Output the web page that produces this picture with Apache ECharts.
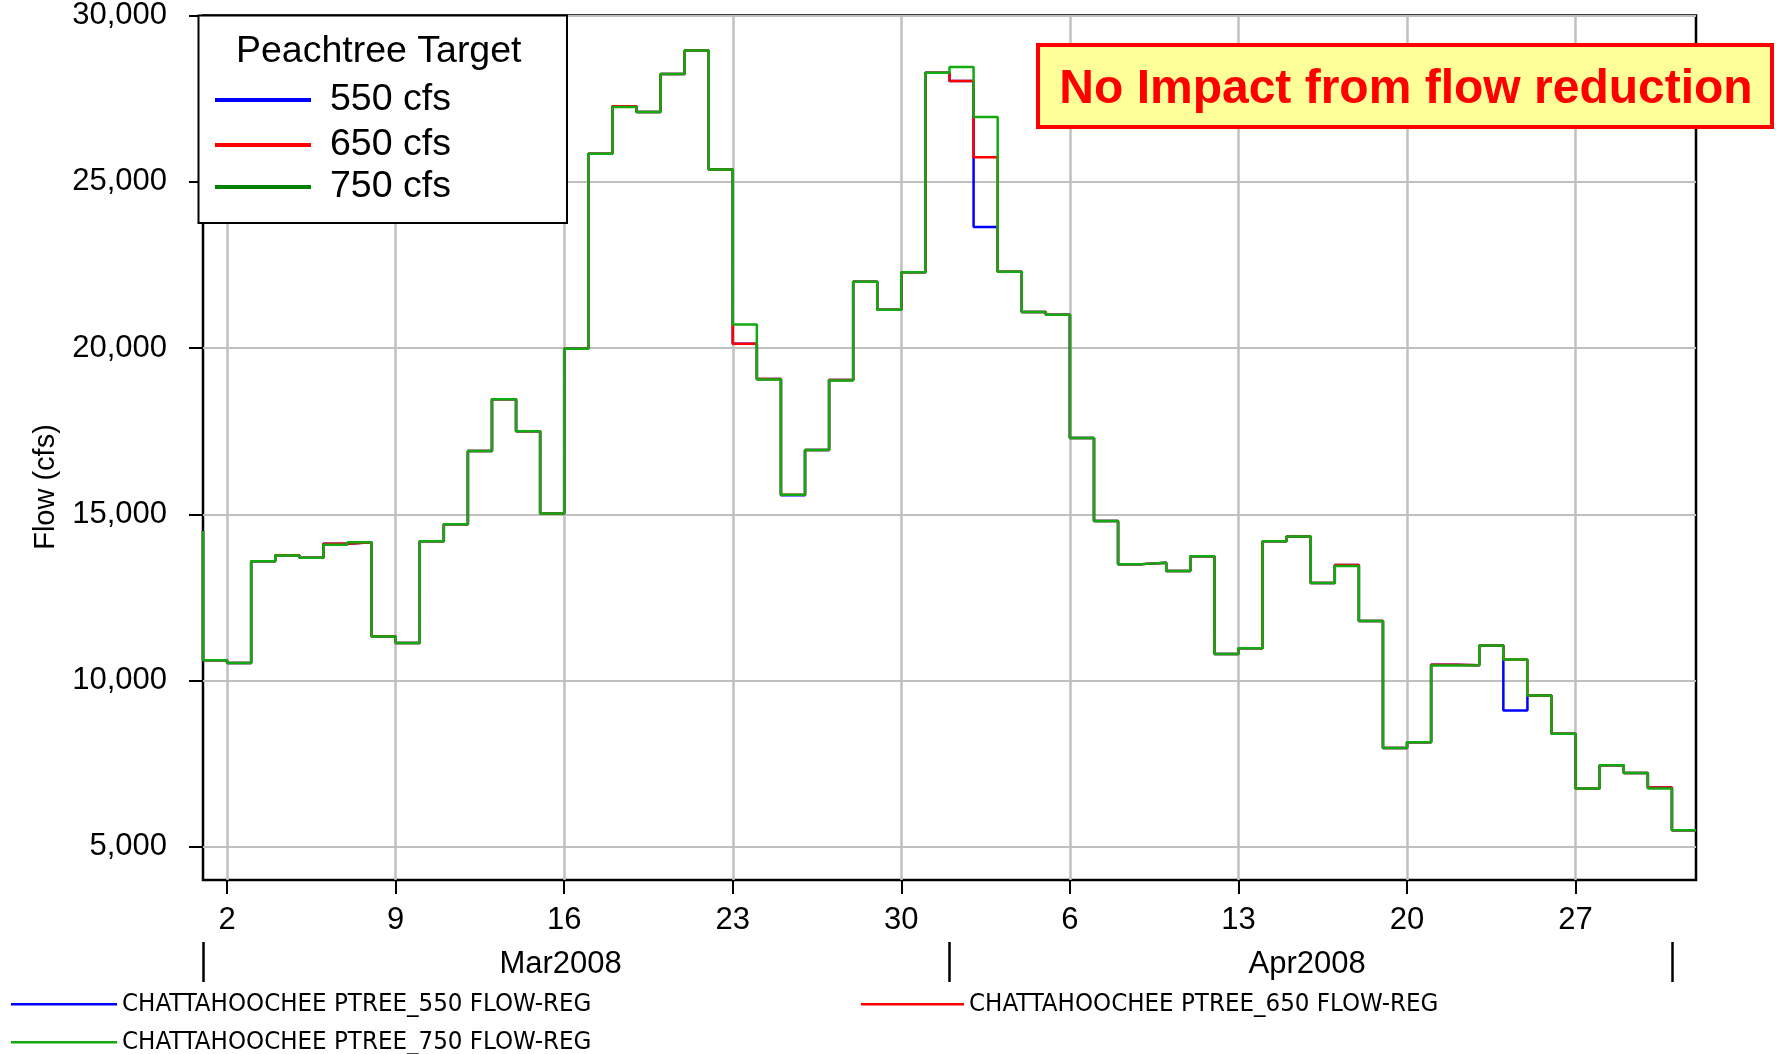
<!DOCTYPE html>
<html><head><meta charset="utf-8">
<script src="https://cdn.jsdelivr.net/npm/echarts@6/dist/echarts.min.js"></script>
<style>html,body{margin:0;padding:0;background:#fff}#c{width:1776px;height:1054px}</style>
</head><body><div id="c"></div>
<script>
const seriesNames = ['CHATTAHOOCHEE PTREE_550 FLOW-REG', 'CHATTAHOOCHEE PTREE_650 FLOW-REG', 'CHATTAHOOCHEE PTREE_750 FLOW-REG'];
const targetLabels = ['550 cfs', '650 cfs', '750 cfs'];
const legendTitle = 'Peachtree Target';
const noteText = 'No Impact from flow reduction';
const yName = 'Flow (cfs)';
// index 0 = value at Mar 1 00:00 (end of Feb 29); index k = daily flow of day k (Mar 1 ... May 1)
const flow750 = [14500,
  10610, 10530, 13590, 13760, 13690, 14080, 14160, 11320, 11130, 14190,
  14700, 16900, 18460, 17500, 15020, 19980, 25840, 27250, 27100, 28240,
  28950, 25370, 20710, 19050, 15590, 16930, 19020, 21990, 21150, 22280,
  28280,
  28450, 26950, 22290, 21080, 21000, 17290, 14800, 13500, 13540, 13290,
  13740, 10800, 10970, 14190, 14330, 12930, 13440, 11790, 7970, 8140,
  10450, 10460, 11050, 10630, 9550, 8400, 6750, 7450, 7220, 6750,
  5500];
const flow650 = [14500,
  10610, 10530, 13590, 13770, 13690, 14110, 14160, 11320, 11130, 14190,
  14700, 16900, 18460, 17500, 15020, 19980, 25840, 27270, 27100, 28240,
  28950, 25370, 20130, 19070, 15590, 16930, 19040, 21990, 21150, 22280,
  28280,
  28030, 25740, 22290, 21080, 21000, 17290, 14800, 13500, 13540, 13290,
  13740, 10800, 10970, 14190, 14330, 12930, 13470, 11790, 7970, 8140,
  10470, 10460, 11050, 10630, 9550, 8400, 6750, 7450, 7220, 6780,
  5500];
const flow550 = [14500,
  10610, 10530, 13590, 13770, 13690, 14110, 14160, 11320, 11130, 14190,
  14700, 16900, 18460, 17500, 15020, 19980, 25840, 27270, 27100, 28240,
  28950, 25370, 20130, 19070, 15570, 16930, 19040, 21990, 21150, 22280,
  28280,
  28030, 23640, 22290, 21080, 21000, 17290, 14800, 13500, 13540, 13290,
  13740, 10800, 10970, 14190, 14330, 12930, 13470, 11790, 7970, 8140,
  10470, 10460, 11050, 9100, 9550, 8400, 6750, 7450, 7220, 6780,
  5500];
const yTicks = [5000, 10000, 15000, 20000, 25000, 30000];
const xTickDays = [1, 8, 15, 22, 29, 36, 43, 50, 57];
const xTickLabels = ['2', '9', '16', '23', '30', '6', '13', '20', '27'];
const monthBounds = [0, 31, 61];
const monthLabels = ['Mar2008', 'Apr2008'];
const monthLabelPos = [14.85, 45.85];

const FONT = "'Liberation Sans', Arial, Helvetica, sans-serif";
const NARROW = "'Liberation Sans Narrow', 'Arial Narrow', 'DejaVu Sans Condensed', sans-serif";
const lineColors = ['#0000ff', '#ff0000', '#11aa11'];
const boxColors = ['#0000ff', '#ff0000', '#008000'];
const fmtThousands = v => String(v).replace(/\B(?=(\d{3})+(?!\d))/g, ',');
const flows = [flow550, flow650, flow750];

const chart = echarts.init(document.getElementById('c'), null, {renderer: 'canvas'});

const innerFont = 37.5;
const innerCenters = [99.8, 144.8, 186.8];
const innerLegends = seriesNames.map((n, k) => ({
  data: [{name: n, itemStyle: {color: boxColors[k], borderWidth: 0}}],
  left: 215, top: innerCenters[k] - innerFont / 2, padding: 0, orient: 'horizontal',
  icon: 'rect', itemWidth: 96, itemHeight: 4, selectedMode: false, z: 30,
  itemStyle: {borderWidth: 0},
  formatter: name => targetLabels[seriesNames.indexOf(name)],
  textStyle: {fontFamily: FONT, fontSize: innerFont, color: '#000', padding: [0, 0, 0, 14]}
}));
const bottomFont = 25.6;
const bottomPos = [{left: 11, c: 1004, w: 106}, {left: 861, c: 1004, w: 103}, {left: 11, c: 1042, w: 106}];
const bottomLegends = seriesNames.map((n, k) => ({
  data: [{name: n, itemStyle: {color: lineColors[k], borderWidth: 0}}],
  left: bottomPos[k].left, top: bottomPos[k].c - bottomFont / 2, padding: 0,
  icon: 'rect', itemWidth: bottomPos[k].w, itemHeight: 2.5, selectedMode: false,
  itemStyle: {borderWidth: 0},
  textStyle: {fontFamily: NARROW, fontSize: bottomFont, color: '#000'}
}));

const option = {
  animation: false,
  backgroundColor: '#ffffff',
  grid: {left: 203, top: 15, width: 1493, height: 865, show: true, borderColor: '#000', borderWidth: 2.5, backgroundColor: 'transparent'},
  xAxis: [{
    type: 'value', min: 0, max: 62,
    axisLine: {show: false},
    axisTick: {show: true, customValues: xTickDays, length: 14, lineStyle: {color: '#000', width: 2}},
    axisLabel: {customValues: xTickDays, formatter: v => xTickLabels[xTickDays.indexOf(Math.round(v))] || '',
      fontFamily: FONT, fontSize: 31, color: '#000', margin: 25},
    splitLine: {show: true, lineStyle: {color: '#c0c0c0', width: 2.5}}
  }, {
    type: 'value', min: 0, max: 62, position: 'bottom', offset: 62,
    axisLine: {show: false},
    axisTick: {show: true, customValues: monthBounds, length: 40, lineStyle: {color: '#000', width: 2.5}},
    axisLabel: {customValues: monthLabelPos, formatter: v => monthLabels[v < monthBounds[1] ? 0 : 1],
      fontFamily: FONT, fontSize: 31, color: '#000', margin: 7},
    splitLine: {show: false}
  }],
  yAxis: {
    type: 'value', min: 4000, max: 30000,
    axisLine: {show: false},
    axisTick: {show: true, customValues: yTicks, length: 14, lineStyle: {color: '#000', width: 2}},
    axisLabel: {customValues: yTicks, formatter: fmtThousands, fontFamily: FONT, fontSize: 31, color: '#000', margin: 36},
    splitLine: {show: true, lineStyle: {color: '#c0c0c0', width: 2}}
  },
  legend: innerLegends.concat(bottomLegends),
  series: flows.map((arr, k) => ({
    name: seriesNames[k], type: 'line', step: 'start',
    data: arr.map((v, i) => [i, v]),
    showSymbol: false, symbol: 'none', clip: false, z: 3 + k,
    lineStyle: {color: lineColors[k], width: 2.5},
    itemStyle: {color: lineColors[k]}
  })),
  graphic: [
    {type: 'rect', z: 20, shape: {x: 198.5, y: 15.5, width: 368.5, height: 207.5},
      style: {fill: '#ffffff', stroke: '#000', lineWidth: 2}},
    {type: 'text', z: 30, x: 378.7, y: 52,
      style: {text: legendTitle, fontFamily: FONT, fontSize: innerFont, fill: '#000', align: 'center', verticalAlign: 'middle'}},
    {type: 'rect', z: 20, shape: {x: 1038, y: 45, width: 734, height: 82},
      style: {fill: '#ffff99', stroke: '#ff0000', lineWidth: 4}},
    {type: 'text', z: 30, x: 1406, y: 89.5,
      style: {text: noteText, fontFamily: FONT, fontWeight: 'bold', fontSize: 48, fill: '#ff0000', align: 'center', verticalAlign: 'middle'}},
    {type: 'text', z: 30, x: 46, y: 487, rotation: Math.PI / 2,
      style: {text: yName, fontFamily: FONT, fontSize: 29, fill: '#000', align: 'center', verticalAlign: 'middle'}}
  ]
};
chart.setOption(option);
</script></body></html>
